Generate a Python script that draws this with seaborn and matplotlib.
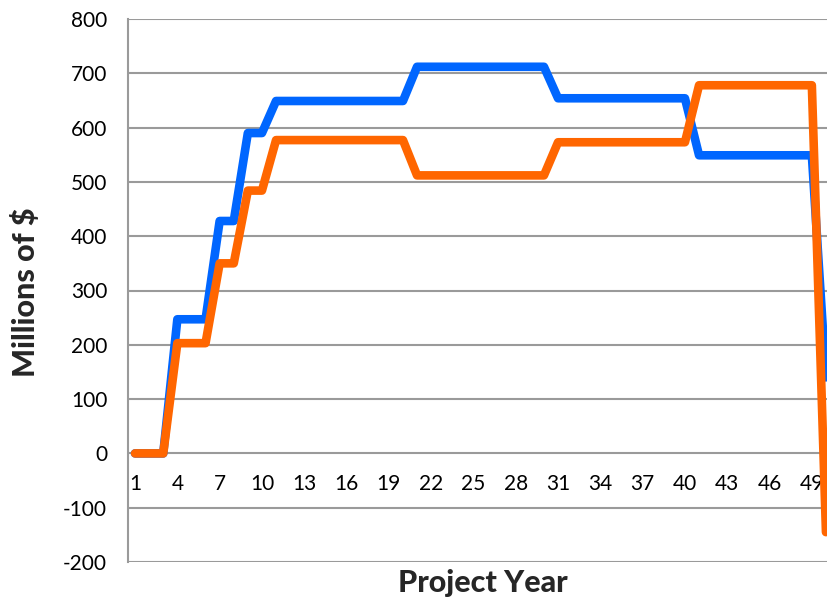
import matplotlib
matplotlib.use("Agg")
import matplotlib.pyplot as plt
import seaborn as sns
import pandas as pd
import numpy as np

# Project years 1..50
years = list(range(1, 51))

# Blue series (millions of $)
blue_values = ([0] * 3 + [247] * 3 + [428] * 2 + [590] * 2 + [649] * 10 +
               [712] * 10 + [654] * 10 + [549] * 9 + [140])

# Orange series (millions of $)
orange_values = ([0] * 3 + [203] * 3 + [350] * 2 + [484] * 2 + [577] * 10 +
                 [512] * 10 + [573] * 10 + [678] * 9 + [-145])

x_ticks = list(range(1, 50, 3))
y_ticks = list(range(-200, 801, 100))

sns.set_theme(style="white")
plt.rcParams['font.family'] = ['Lato', 'DejaVu Sans']
plt.rcParams['axes.unicode_minus'] = False

df = pd.DataFrame({'Year': years, 'Blue': blue_values, 'Orange': orange_values})

fig = plt.figure(figsize=(8.28, 6.05), dpi=100)
# axes run past the right edge of the image, like the cropped original
ax = fig.add_axes([128 / 828, 43 / 605, 705 / 828, 543 / 605])

line_kw = dict(linewidth=6.2, solid_joinstyle='round', solid_capstyle='round')
sns.lineplot(data=df, x='Year', y='Blue', color='#0066FF', ax=ax, **line_kw)
sns.lineplot(data=df, x='Year', y='Orange', color='#FF6600', ax=ax, **line_kw)

ax.set_xlim(0.5, 50.5)
ax.set_ylim(-200, 800)
ax.set_yticks(y_ticks)
ax.set_xticks(x_ticks)
ax.set_xticklabels([str(t) for t in x_ticks])

ax.yaxis.grid(True, color='#9a9a9a', linewidth=1.5)
ax.xaxis.grid(False)
ax.set_axisbelow(True)

for side in ['top', 'right']:
    ax.spines[side].set_visible(False)
ax.spines['left'].set_color('#9a9a9a')
ax.spines['left'].set_linewidth(1.5)
# x tick labels sit under the zero line
ax.spines['bottom'].set_position(('data', 0))
ax.spines['bottom'].set_visible(False)

ax.tick_params(axis='x', length=0, pad=15, labelsize=15, colors='black')
ax.tick_params(axis='y', length=0, pad=15, labelsize=15, colors='black')

ax.set_xlabel('Project Year', fontsize=22, fontweight='black')
ax.xaxis.set_label_coords(0.503, -0.039)
ax.xaxis.label.set_va('center')
ax.set_ylabel('Millions of $', fontsize=22, fontweight='black')
ax.yaxis.set_label_coords(-0.146, 0.497)
ax.yaxis.label.set_va('center')

fig.savefig('out.png', dpi=100)
